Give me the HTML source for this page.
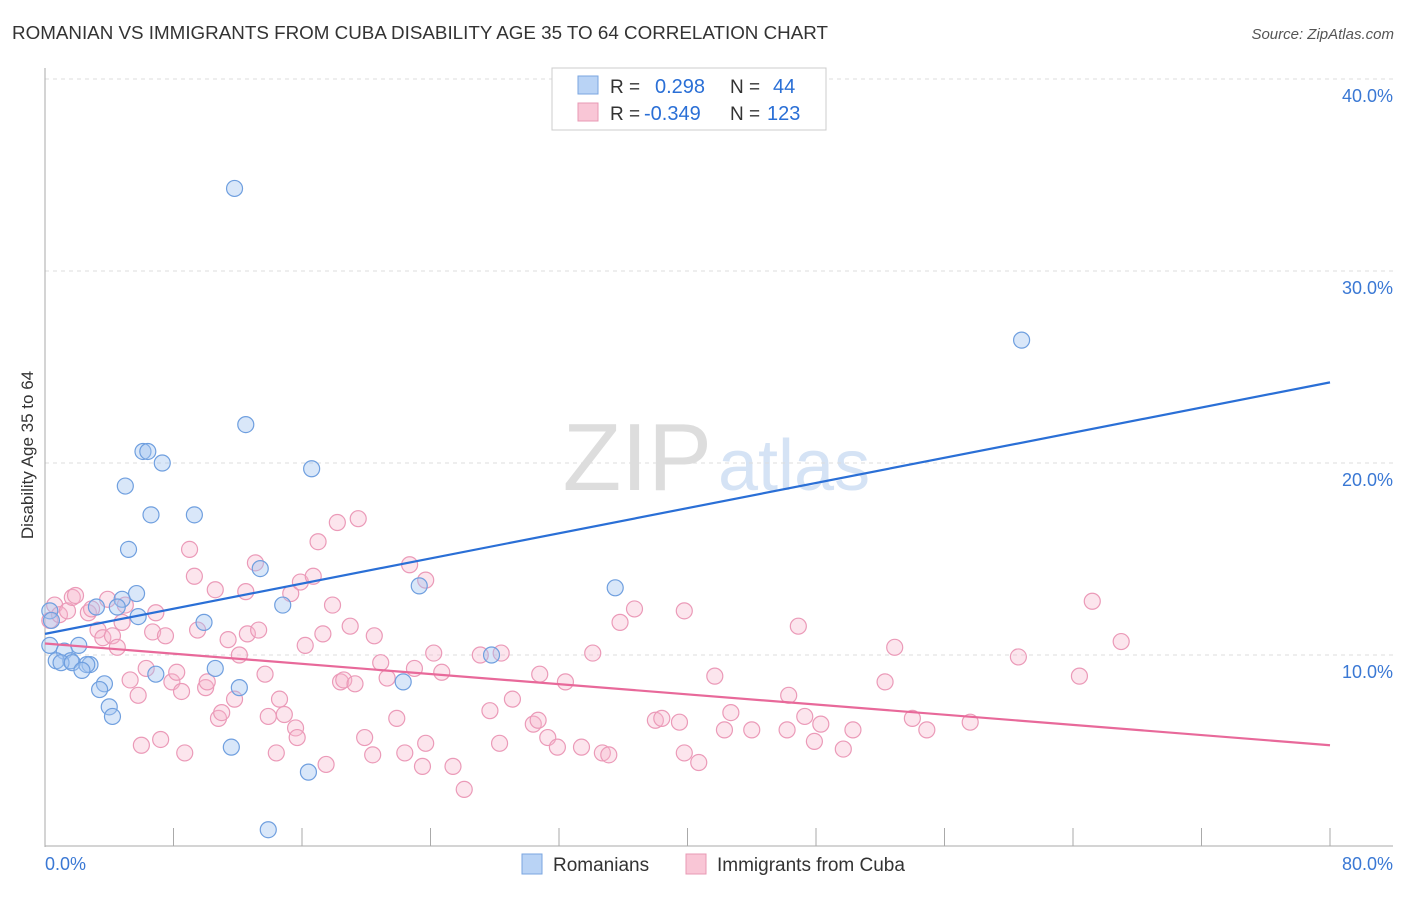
<!DOCTYPE html>
<html><head><meta charset="utf-8"><style>
body{margin:0;background:#fff;font-family:"Liberation Sans",sans-serif}
svg text{font-family:"Liberation Sans",sans-serif}
</style></head><body>
<svg id="chart" width="1406" height="892" xmlns="http://www.w3.org/2000/svg">
<text x="12" y="39" font-size="18" fill="#333" textLength="816" lengthAdjust="spacingAndGlyphs">ROMANIAN VS IMMIGRANTS FROM CUBA DISABILITY AGE 35 TO 64 CORRELATION CHART</text>
<text x="1394" y="39" font-size="15" fill="#555" text-anchor="end" font-style="italic">Source: ZipAtlas.com</text>
<text x="712" y="490" font-size="96" fill="#ddd" text-anchor="end" font-family="Liberation Serif">ZIP</text>
<text x="718" y="490" font-size="72" fill="#d5e3f5">atlas</text>
<g id="grid"></g>
<g id="axes"></g>
<g id="pts"></g>
<g id="lines"></g>
<text transform="translate(33,455) rotate(-90)" font-size="17" fill="#333" text-anchor="middle">Disability Age 35 to 64</text>
<text x="45" y="870" font-size="18" fill="#3a78d4">0.0%</text>
<text x="1393" y="870" font-size="18" fill="#3a78d4" text-anchor="end">80.0%</text>
<g>
<rect x="552" y="68" width="274" height="62" fill="#fff" stroke="#ccc"/>
<rect x="578" y="76" width="20" height="18" fill="#b9d3f5" stroke="#7aa6e0"/>
<rect x="578" y="103" width="20" height="18" fill="#f9c6d6" stroke="#e899b4"/>
<text x="610" y="93" font-size="19" fill="#333">R = </text><text x="655" y="93" font-size="20" fill="#2a6fd6">0.298</text>
<text x="730" y="93" font-size="19" fill="#333">N = </text><text x="773" y="93" font-size="20" fill="#2a6fd6">44</text>
<text x="610" y="120" font-size="19" fill="#333">R = </text><text x="644" y="120" font-size="20" fill="#2a6fd6">-0.349</text>
<text x="730" y="120" font-size="19" fill="#333">N = </text><text x="767" y="120" font-size="20" fill="#2a6fd6">123</text>
</g>
<g>
<rect x="522" y="854" width="20" height="20" fill="#b9d3f5" stroke="#7aa6e0"/>
<text x="553" y="871" font-size="19" fill="#333">Romanians</text>
<rect x="686" y="854" width="20" height="20" fill="#f9c6d6" stroke="#e899b4"/>
<text x="717" y="871" font-size="19" fill="#333">Immigrants from Cuba</text>
</g>
</svg>
<script>
const yTicks=[10,20,30,40];
const yTickLabels=["10.0%","20.0%","30.0%","40.0%"];
const xTicks=[0,8,16,24,32,40,48,56,64,72,80];
const romaniansX=[11.8,60.8,12.5,6.1,6.4,7.3,16.6,5.0,9.3,6.6,5.2,13.4,23.3,35.5,5.7,4.8,4.5,3.2,14.8,5.8,9.9,0.3,0.4,2.1,0.3,1.2,1.6,0.7,1.0,1.7,2.8,2.6,2.3,10.6,27.8,6.9,22.3,3.7,3.4,12.1,4.0,4.2,11.6,16.4,13.9];
const romaniansY=[34.3,26.4,22.0,20.6,20.6,20.0,19.7,18.8,17.3,17.3,15.5,14.5,13.6,13.5,13.2,12.9,12.5,12.5,12.6,12.0,11.7,12.3,11.8,10.5,10.5,10.2,9.7,9.7,9.6,9.6,9.5,9.5,9.2,9.3,10.0,9.0,8.6,8.5,8.2,8.3,7.3,6.8,5.2,3.9,0.9];
const cubaX=[0.3,0.6,0.9,1.4,1.7,1.9,2.7,2.9,3.3,3.6,3.9,4.2,4.5,4.8,5.0,5.3,5.8,6.0,6.3,6.7,6.9,7.2,7.5,7.9,8.2,8.5,8.7,9.0,9.3,9.5,10.0,10.1,10.6,10.8,11.0,11.4,11.8,12.1,12.5,12.6,13.1,13.3,13.7,13.9,14.4,14.6,14.9,15.3,15.6,15.7,15.9,16.2,16.7,17.0,17.3,17.5,17.9,18.2,18.4,18.6,19.0,19.3,19.5,19.9,20.4,20.5,20.9,21.3,21.9,22.4,22.7,23.0,23.5,23.7,23.7,24.2,24.7,25.4,26.1,27.1,27.7,28.3,28.4,29.1,30.4,30.7,30.8,31.3,31.9,32.4,33.4,34.1,34.7,35.1,35.8,36.7,38.0,38.4,39.5,39.8,39.8,40.7,41.7,42.3,42.7,44.0,46.2,46.3,46.9,47.3,47.9,48.3,49.7,50.3,52.3,52.9,54.0,54.9,57.6,60.6,64.4,65.2,67.0];
const cubaY=[11.8,12.6,12.1,12.3,13.0,13.1,12.2,12.4,11.3,10.9,12.9,11.0,10.4,11.7,12.6,8.7,7.9,5.3,9.3,11.2,12.2,5.6,11.0,8.6,9.1,8.1,4.9,15.5,14.1,11.3,8.3,8.6,13.4,6.7,7.0,10.8,7.7,10.0,13.3,11.1,14.8,11.3,9.0,6.8,4.9,7.7,6.9,13.2,6.2,5.7,13.8,10.5,14.1,15.9,11.1,4.3,12.6,16.9,8.6,8.7,11.5,8.5,17.1,5.7,4.8,11.0,9.6,8.8,6.7,4.9,14.7,9.3,4.2,13.9,5.4,10.1,9.1,4.2,3.0,10.0,7.1,5.4,10.1,7.7,6.4,6.6,9.0,5.7,5.2,8.6,5.2,10.1,4.9,4.8,11.7,12.4,6.6,6.7,6.5,12.3,4.9,4.4,8.9,6.1,7.0,6.1,6.1,7.9,11.5,6.8,5.5,6.4,5.1,6.1,8.6,10.4,6.7,6.1,6.5,9.9,8.9,12.8,10.7];
const blueLine=[0,11.1,80,24.2];
const pinkLine=[0,10.6,80,5.3];
const NS="http://www.w3.org/2000/svg";
const X0=45,X1=1330,Y0=847,PXY=19.2;
function sx(v){return X0+(v/80)*(X1-X0);}
function sy(v){return Y0-v*PXY;}
function mk(tag,attrs,parent){const e=document.createElementNS(NS,tag);for(const k in attrs)e.setAttribute(k,attrs[k]);parent.appendChild(e);return e;}
const grid=document.getElementById('grid'),axes=document.getElementById('axes'),pts=document.getElementById('pts'),lines=document.getElementById('lines');
yTicks.forEach((t,i)=>{
 const l=mk('line',{x1:X0,x2:1393,y1:sy(t),y2:sy(t),stroke:'#ddd','stroke-dasharray':'4,4'},grid);
 
 
 const tx=mk('text',{x:1393,y:sy(t)+23,'font-size':18,fill:'#3a78d4','text-anchor':'end'},grid);
 tx.textContent=yTickLabels[i];
 
 
});
const ya=mk('line',{x1:X0,x2:X0,y1:68,y2:847,stroke:'#aaa'},axes);


const xa=mk('line',{x1:X0,x2:1393,y1:846,y2:846,stroke:'#aaa'},axes);


xTicks.forEach(t=>{
 const l=mk('line',{x1:sx(t),x2:sx(t),y1:828,y2:846,stroke:'#aaa'},axes);
 
 
});
cubaX.forEach((v,i)=>{
 const c=mk('circle',{cx:sx(v),cy:sy(cubaY[i]),r:8,fill:'rgba(246,180,202,0.35)',stroke:'#eb9ab8','stroke-width':1.2},pts);
 
 
});
romaniansX.forEach((v,i)=>{
 const c=mk('circle',{cx:sx(v),cy:sy(romaniansY[i]),r:8,fill:'rgba(160,196,240,0.4)',stroke:'#6f9fdf','stroke-width':1.2},pts);
 
 
});
const bl=mk('line',{x1:sx(blueLine[0]),y1:sy(blueLine[1]),x2:sx(blueLine[2]),y2:sy(blueLine[3]),stroke:'#2a6fd6','stroke-width':2.2},lines);


const pl=mk('line',{x1:sx(pinkLine[0]),y1:sy(pinkLine[1]),x2:sx(pinkLine[2]),y2:sy(pinkLine[3]),stroke:'#e8699a','stroke-width':2.2},lines);


</script>
</body></html>
